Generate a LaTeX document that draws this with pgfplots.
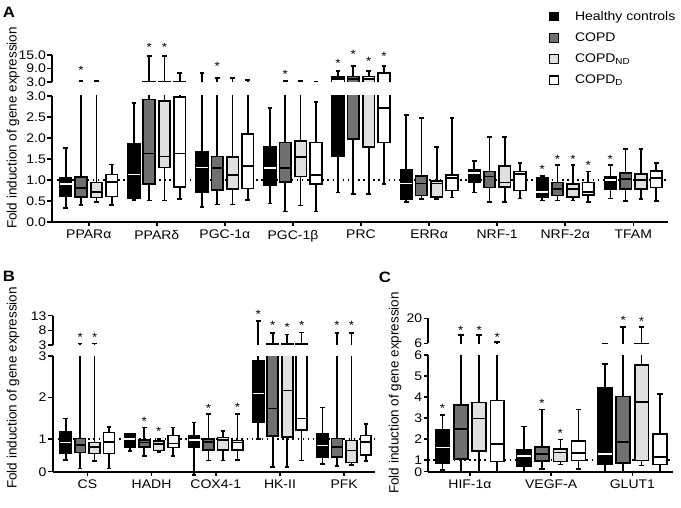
\documentclass[border=0pt]{standalone}
\usepackage{fontspec}
\setmainfont{Liberation Sans}[FakeStretch=1.12]
\newfontfamily\ylabfont{Liberation Sans}
\usepackage{pgfplots}
\usepackage{pgfplotstable}
\pgfplotsset{compat=1.18}
\usepgfplotslibrary{statistics}

\definecolor{copdgray}{HTML}{707070}
\definecolor{ndgray}{HTML}{E0E0E0}

% ---------- Panel A (rows: PPARa, PPARd, PGC-1a, PGC-1b, PRC, ERRa, NRF-1, NRF-2a, TFAM)
\pgfplotstableread{
lw q1 med q3 uw
0.34 0.61 0.91 1.05 1.76
0.53 0.57 1.13 1.87 2.84
0.35 0.72 1.30 1.66 6.9
0.44 0.88 1.28 1.79 2.72
0.70 1.56 3.3 5.4 7.9
0.48 0.55 0.92 1.24 2.55
0.70 0.94 1.17 1.24 1.46
0.51 0.60 0.71 1.06 1.10
0.56 0.79 1.00 1.08 1.36
}\AHC
\pgfplotstableread{
lw q1 med q3 uw
0.40 0.60 0.81 1.07 3.5
0.51 0.90 1.63 2.92 14.7
0.42 0.76 1.28 1.56 4.9
0.25 0.96 1.29 1.89 3.3
0.67 1.97 4.3 5.4 10.2
0.55 0.63 0.92 1.10 2.47
0.47 0.82 1.08 1.20 2.03
0.51 0.63 0.79 0.94 1.36
0.50 0.79 1.02 1.16 1.73
}\AC
\pgfplotstableread{
lw q1 med q3 uw
0.48 0.58 0.72 0.94 3.5
0.51 1.30 1.56 2.88 14.7
0.42 0.79 1.12 1.54 4.9
0.39 1.08 1.54 1.93 3.3
0.67 1.79 4.2 5.4 7.9
0.55 0.59 0.92 0.98 1.79
0.47 0.83 0.94 1.33 2.03
0.51 0.60 0.79 0.90 1.36
0.55 0.79 1.00 1.14 1.73
}\AN
\pgfplotstableread{
lw q1 med q3 uw
0.40 0.61 0.96 1.13 1.37
0.54 0.84 1.63 2.97 7.0
0.52 0.80 1.34 2.10 3.9
0.25 0.90 1.12 1.89 2.85
0.90 1.89 2.72 6.9 10.2
0.58 0.75 1.04 1.12 2.47
0.56 0.75 1.14 1.20 1.41
0.47 0.64 0.72 0.94 1.20
0.50 0.82 1.04 1.21 1.41
}\AD
% ---------- Panel B (rows: CS, HADH, COX4-1, HK-II, PFK)
\pgfplotstableread{
lw q1 med q3 uw
0.50 0.66 0.92 1.18 1.50
0.72 0.82 1.00 1.12 1.14
0.14 0.81 0.98 1.09 1.40
1.00 1.40 2.10 2.88 11.3
0.40 0.58 0.85 1.14 1.76
}\BHC
\pgfplotstableread{
lw q1 med q3 uw
0.30 0.68 0.86 1.02 3.5
0.60 0.81 0.92 0.98 1.28
0.49 0.74 0.94 1.01 1.60
0.33 1.08 1.74 3.4 7.0
0.36 0.58 0.81 1.02 7.2
}\BC
\pgfplotstableread{
lw q1 med q3 uw
0.47 0.66 0.82 0.92 3.5
0.69 0.73 0.88 0.96 1.00
0.49 0.74 0.98 1.04 1.20
0.33 1.06 2.17 3.4 6.6
0.38 0.44 0.73 0.97 7.2
}\BN
\pgfplotstableread{
lw q1 med q3 uw
0.30 0.66 0.94 1.16 1.30
0.60 0.80 0.90 1.09 1.28
0.50 0.74 0.92 0.97 1.60
0.49 1.22 1.50 3.4 7.3
0.48 0.62 0.93 1.09 1.36
}\BD
% ---------- Panel C (rows: HIF-1a, VEGF-A, GLUT1)
\pgfplotstableread{
lw q1 med q3 uw
0.52 0.84 1.60 2.43 3.14
0.44 0.71 1.19 1.48 2.59
0.32 0.81 1.27 4.44 5.57
}\CHC
\pgfplotstableread{
lw q1 med q3 uw
0.40 1.03 2.48 3.62 10.7
0.56 0.95 1.27 1.63 3.41
0.25 0.84 1.84 4.02 15.0
}\CC
\pgfplotstableread{
lw q1 med q3 uw
0.40 1.44 2.98 3.73 10.7
0.79 0.92 1.35 1.52 1.98
0.73 0.97 3.75 5.52 15.0
}\CN
\pgfplotstableread{
lw q1 med q3 uw
0.41 0.92 1.75 3.83 6.7
0.56 0.97 1.32 1.90 3.41
0.25 0.79 1.13 2.22 4.13
}\CD

\pgfplotsset{
  myHC/.style={draw=black, fill=black, line width=1.7pt, boxplot/every median/.style={draw=white, line width=1.7pt}},
  myCOPD/.style={draw=black, fill=copdgray, line width=1.7pt},
  myND/.style={draw=black, fill=ndgray, line width=1.7pt},
  myD/.style={draw=black, fill=white, line width=1.7pt},
  boxset/.style={boxplot/draw direction=y, boxplot/box extend=0.17, boxplot/whisker extend=0.07},
  baseax/.style={scale only axis, anchor=south west, clip=true, boxset,
    axis y line*=left, axis line style={line width=1.7pt},
    tick style={line width=1.5pt, black}, major tick length=4.5pt, tick align=outside,
    tick label style={font=\fontsize{12.5}{14}\selectfont},
    yticklabel style={inner sep=1.5pt}},
  lowax/.style={baseax, axis x line*=bottom,
    ylabel style={font=\ylabfont\fontsize{13.5}{15}\selectfont, anchor=center}},
  upax/.style={baseax, axis x line=none},
  % same scale as a lower segment, but a taller range, clipped by a scope
  boxax/.style={scale only axis, anchor=south west, hide axis, clip=false, boxset},
  starax/.style={scale only axis, anchor=south west, hide axis, clip=false},
  stars/.style={only marks, mark=text, text mark={*}, text mark as node=true,
    text mark style={font=\fontsize{12}{12}\selectfont, yshift=-2.5pt}},
  refline/.style={line width=1.5pt, dash pattern=on 1.5pt off 3.6pt},
}

% draw every row of a five-number table as a box at (row+1+offset)
\newcommand\boxes[4]{%
  \pgfplotsinvokeforeach{0,...,#2}{%
    \pgfplotstablegetelem{##1}{lw}\of#1\let\vlw\pgfplotsretval
    \pgfplotstablegetelem{##1}{q1}\of#1\let\vqa\pgfplotsretval
    \pgfplotstablegetelem{##1}{med}\of#1\let\vmed\pgfplotsretval
    \pgfplotstablegetelem{##1}{q3}\of#1\let\vqc\pgfplotsretval
    \pgfplotstablegetelem{##1}{uw}\of#1\let\vuw\pgfplotsretval
    \edef\tmpplot{\noexpand\addplot[#4, boxplot prepared={draw position={##1+1+(#3)},
      lower whisker=\vlw, lower quartile=\vqa, median=\vmed,
      upper quartile=\vqc, upper whisker=\vuw}] coordinates {};}%
    \tmpplot
  }%
}
\newcommand\allboxes[5]{% HC, COPD, ND, D tables, last row
  \boxes{#1}{#5}{-0.337}{myHC}
  \boxes{#2}{#5}{-0.113}{myCOPD}
  \boxes{#3}{#5}{0.113}{myND}
  \boxes{#4}{#5}{0.337}{myD}
}

\begin{document}
\begin{tikzpicture}
\useasboundingbox (0pt,0pt) rectangle (681pt,507pt);

% ================= Panel A =================
\begin{axis}[lowax, at={(52pt,285pt)}, width=616pt, height=126pt,
  xmin=0.46, xmax=9.51, ymin=0, ymax=3,
  xtick={1,2,3,4,5,6,7,8,9},
  xticklabels={PPARα,PPARδ,PGC-1α,PGC-1β,PRC,ERRα,NRF-1,NRF-2α,TFAM},
  ytick={0,0.5,1,1.5,2,2.5,3},
  yticklabels={0.0,0.5,1.0,1.5,2.0,2.5,3.0},
  ylabel={Fold induction of gene expression},
  ylabel style={at={(axis description cs:-0.0633,0.746)}}]
\addplot[refline] coordinates {(0.46,1) (9.51,1)};
\addplot[stars] coordinates {(7.663,1.32) (7.887,1.56) (8.113,1.56) (8.337,1.41) (8.663,1.56)};
\end{axis}
\begin{scope}
\clip (52pt,285pt) rectangle (668pt,411pt);
\begin{axis}[boxax, at={(52pt,285pt)}, width=616pt, height=672pt,
  xmin=0.46, xmax=9.51, ymin=0, ymax=16]
\allboxes{\AHC}{\AC}{\AN}{\AD}{8}
\end{axis}
\end{scope}
\begin{axis}[upax, at={(52pt,425pt)}, width=616pt, height=27pt,
  xmin=0.46, xmax=9.51, ymin=3, ymax=15,
  ytick={3,9,15}, yticklabels={3.0,9.0,15.0}]
\allboxes{\AHC}{\AC}{\AN}{\AD}{8}
\end{axis}
\begin{axis}[starax, at={(52pt,425pt)}, width=616pt, height=40.5pt,
  xmin=0.46, xmax=9.51, ymin=3, ymax=21]
\addplot[stars] coordinates {(0.887,9.1) (1.887,19.6) (2.113,19.6) (2.887,10.9) (3.887,7.6) (4.663,12.5) (4.887,16.2) (5.113,13.2) (5.337,15.7)};
\end{axis}

% legend
\begin{axis}[at={(549pt,498pt)}, anchor=north west, scale only axis, width=1pt, height=1pt,
  hide axis, xmin=0, xmax=1, ymin=0, ymax=1,
  legend cell align=left,
  legend style={at={(0,1)}, anchor=north west, draw=none, fill=none, inner sep=0pt,
    row sep=7pt, font=\fontsize{12.5}{14}\selectfont,
    /tikz/every odd column/.append style={column sep=14pt}},
  legend image code/.code={\draw[#1, line width=1.2pt] (0pt,-4.3pt) rectangle (8.6pt,4.3pt);}]
\addlegendimage{draw=black, fill=black}
\addlegendentry{Healthy controls}
\addlegendimage{draw=black, fill=copdgray}
\addlegendentry{COPD}
\addlegendimage{draw=black, fill=ndgray}
\addlegendentry{COPD\textsubscript{ND}}
\addlegendimage{draw=black, fill=white}
\addlegendentry{COPD\textsubscript{D}}
\end{axis}

% ================= Panel B =================
\begin{axis}[lowax, at={(52.7pt,35.3pt)}, width=322.3pt, height=115.7pt,
  xmin=0.46, xmax=5.48, ymin=0.22, ymax=3,
  xtick={1,2,3,4,5},
  xticklabels={CS,HADH,COX4-1,HK-II,PFK},
  ytick={0.22,1,2,3}, yticklabels={0,1,2,3},
  ylabel={Fold induction of gene expression},
  ylabel style={at={(axis description cs:-0.123,0.723)}}]
\addplot[refline] coordinates {(0.46,1) (5.48,1)};
\addplot[stars] coordinates {(1.887,1.50) (2.113,1.24) (2.887,1.80) (3.337,1.82)};
\end{axis}
\begin{scope}
\clip (52.7pt,31.3pt) rectangle (375pt,151pt);
\begin{axis}[boxax, at={(52.7pt,35.3pt)}, width=322.3pt, height=490.6pt,
  xmin=0.46, xmax=5.48, ymin=0.22, ymax=12]
\allboxes{\BHC}{\BC}{\BN}{\BD}{4}
\end{axis}
\end{scope}
\begin{axis}[upax, at={(52.7pt,162pt)}, width=322.3pt, height=29.3pt,
  xmin=0.46, xmax=5.48, ymin=3, ymax=13,
  ytick={3,8,13}, yticklabels={3,8,13}]
\allboxes{\BHC}{\BC}{\BN}{\BD}{4}
\end{axis}
\begin{axis}[starax, at={(52.7pt,162pt)}, width=322.3pt, height=38.09pt,
  xmin=0.46, xmax=5.48, ymin=3, ymax=16]
\addplot[stars] coordinates {(0.887,6.4) (1.113,6.4) (3.663,14.4) (3.887,10.4) (4.113,9.8) (4.337,10.4) (4.887,10.6) (5.113,10.6)};
\end{axis}

% ================= Panel C =================
\begin{axis}[lowax, at={(428.3pt,35.3pt)}, width=244.7pt, height=116.7pt,
  xmin=0.487, xmax=3.5, ymin=0.44, ymax=6,
  xtick={1,2,3},
  xticklabels={HIF-1α,VEGF-A,GLUT1},
  ytick={0.44,1,2,3,4,5,6}, yticklabels={0,1,2,3,4,5,6},
  ylabel={Fold induction of gene expression},
  ylabel style={at={(axis description cs:-0.136,0.674)}}]
\addplot[refline] coordinates {(0.487,1) (3.5,1)};
\addplot[stars] coordinates {(0.663,3.57) (1.887,3.8) (2.113,2.38)};
\end{axis}
\begin{scope}
\clip (428.3pt,35.3pt) rectangle (673pt,152pt);
\begin{axis}[boxax, at={(428.3pt,35.3pt)}, width=244.7pt, height=326.6pt,
  xmin=0.487, xmax=3.5, ymin=0.44, ymax=16]
\allboxes{\CHC}{\CC}{\CN}{\CD}{2}
\end{axis}
\end{scope}
\begin{axis}[upax, at={(428.3pt,163.7pt)}, width=244.7pt, height=25pt,
  xmin=0.487, xmax=3.5, ymin=6, ymax=20,
  ytick={6,20}, yticklabels={6,20}]
\allboxes{\CHC}{\CC}{\CN}{\CD}{2}
\end{axis}
\begin{axis}[starax, at={(428.3pt,163.7pt)}, width=244.7pt, height=28.57pt,
  xmin=0.487, xmax=3.5, ymin=6, ymax=22]
\addplot[stars] coordinates {(0.887,14.8) (1.113,14.4) (1.337,10.7) (2.887,20.0) (3.113,19.6)};
\end{axis}

% panel letters
\node[font=\bfseries\fontsize{15}{15}\selectfont] at (9pt,495pt) {A};
\node[font=\bfseries\fontsize{15}{15}\selectfont] at (9pt,231pt) {B};
\node[font=\bfseries\fontsize{15}{15}\selectfont] at (385pt,230pt) {C};
\end{tikzpicture}
\end{document}
